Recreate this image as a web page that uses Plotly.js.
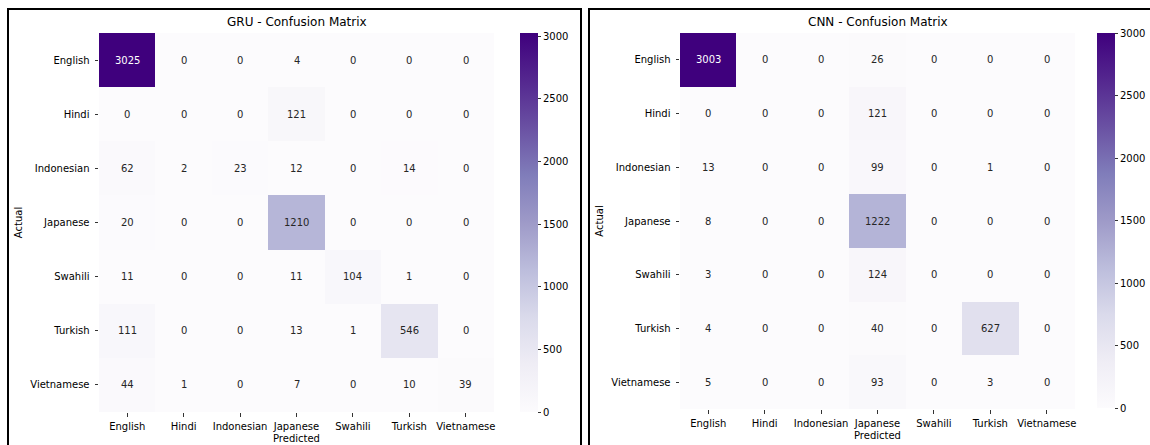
<!DOCTYPE html>
<html>
<head>
<meta charset="utf-8">
<script src="https://cdn.plot.ly/plotly-3.0.1.min.js"></script>
<style>
  html, body { margin: 0; padding: 0; background: #ffffff; }
  #chart { width: 1150px; height: 445px; }
</style>
</head>
<body>
<div id="chart"></div>
<script>
// Language classes (rows = actual, columns = predicted)
const languages = ["English", "Hindi", "Indonesian", "Japanese", "Swahili", "Turkish", "Vietnamese"];

// GRU confusion matrix
const gruMatrix = [
  [3025, 0, 0, 4, 0, 0, 0],
  [0, 0, 0, 121, 0, 0, 0],
  [62, 2, 23, 12, 0, 14, 0],
  [20, 0, 0, 1210, 0, 0, 0],
  [11, 0, 0, 11, 104, 1, 0],
  [111, 0, 0, 13, 1, 546, 0],
  [44, 1, 0, 7, 0, 10, 39]
];

// CNN confusion matrix
const cnnMatrix = [
  [3003, 0, 0, 26, 0, 0, 0],
  [0, 0, 0, 121, 0, 0, 0],
  [13, 0, 0, 99, 0, 1, 0],
  [8, 0, 0, 1222, 0, 0, 0],
  [3, 0, 0, 124, 0, 0, 0],
  [4, 0, 0, 40, 0, 627, 0],
  [5, 0, 0, 93, 0, 3, 0]
];

const colorbarTicks = [0, 500, 1000, 1500, 2000, 2500, 3000];

// Purples sequential colormap
const purples = [
  [0.000, "#fcfbfd"], [0.125, "#efedf5"], [0.250, "#dadaeb"],
  [0.375, "#bcbddc"], [0.500, "#9e9ac8"], [0.625, "#807dba"],
  [0.750, "#6a51a3"], [0.875, "#54278f"], [1.000, "#3f007d"]
];

const W = 1150, H = 445;
const px = v => v / W;
const py = v => (H - v) / H;
const FONT = "DejaVu Sans, Verdana, sans-serif";

function maxOf(m) { return Math.max(...m.map(r => Math.max(...r))); }

function heat(matrix, xa, ya, cbX, cbLen) {
  const zmax = maxOf(matrix);
  return {
    type: "heatmap",
    z: matrix,
    x: languages,
    y: languages,
    xaxis: xa,
    yaxis: ya,
    zmin: 0,
    zmax: zmax,
    colorscale: purples,
    hoverinfo: "skip",
    xgap: 0, ygap: 0,
    colorbar: {
      x: cbX, xanchor: "left", xpad: 0,
      y: py(33), yanchor: "top", ypad: 0,
      len: cbLen, lenmode: "pixels",
      thickness: 18, thicknessmode: "pixels",
      outlinewidth: 0,
      tickvals: colorbarTicks,
      ticks: "outside", ticklen: 3.5, tickwidth: 0.8, tickcolor: "#000",
      ticklabelstandoff: 2,
      tickfont: { family: FONT, size: 10, color: "#000" }
    }
  };
}

// Cell value labels, white on the darkest cells
function cellLabels(matrix, xa, ya) {
  const zmax = maxOf(matrix);
  const out = [];
  matrix.forEach((row, i) => row.forEach((v, j) => {
    out.push({
      x: languages[j], y: languages[i], xref: xa, yref: ya,
      text: String(v), showarrow: false,
      font: { family: FONT, size: 10, color: v / zmax > 0.6 ? "#ffffff" : "#262626" }
    });
  }));
  return out;
}

function axisX(domain, anchor) {
  return {
    domain: domain, anchor: anchor, type: "category",
    showgrid: false, zeroline: false, showline: false,
    ticks: "outside", ticklen: 3.5, tickwidth: 0.8, tickcolor: "#000",
    ticklabelstandoff: 1,
    tickfont: { family: FONT, size: 10, color: "#000" },
    automargin: false, fixedrange: true,
    title: { text: "Predicted", standoff: 4, font: { family: FONT, size: 10, color: "#000" } }
  };
}
function axisY(domain, anchor) {
  return {
    domain: domain, anchor: anchor, type: "category", autorange: "reversed",
    showgrid: false, zeroline: false, showline: false,
    ticks: "outside", ticklen: 3.5, tickwidth: 0.8, tickcolor: "#000",
    ticklabelstandoff: 3,
    tickfont: { family: FONT, size: 10, color: "#000" },
    automargin: false, fixedrange: true,
    title: { text: "Actual", standoff: 5, font: { family: FONT, size: 10, color: "#000" } }
  };
}

const data = [
  heat(gruMatrix, "x", "y", px(520), 379),
  heat(cnnMatrix, "x2", "y2", px(1097), 375)
];

const titles = [
  { text: "GRU - Confusion Matrix", cx: (99 + 494) / 2 },
  { text: "CNN - Confusion Matrix", cx: (680 + 1075) / 2 }
].map(t => ({
  text: t.text, x: px(t.cx), y: py(22), xref: "paper", yref: "paper",
  xanchor: "center", yanchor: "middle", showarrow: false,
  font: { family: FONT, size: 12, color: "#000" }
}));

const layout = {
  width: W, height: H,
  margin: { l: 0, r: 0, t: 0, b: 0 },
  paper_bgcolor: "#ffffff", plot_bgcolor: "#ffffff",
  showlegend: false,
  xaxis: axisX([px(99), px(494)], "y"),
  yaxis: axisY([py(412), py(33)], "x"),
  xaxis2: axisX([px(680), px(1075)], "y2"),
  yaxis2: axisY([py(409), py(33)], "x2"),
  annotations: titles
    .concat(cellLabels(gruMatrix, "x", "y"))
    .concat(cellLabels(cnnMatrix, "x2", "y2")),
  shapes: [
    { type: "rect", xref: "paper", yref: "paper", x0: px(8), x1: px(581), y0: -0.05, y1: py(9),
      line: { color: "#000", width: 2 }, fillcolor: "rgba(0,0,0,0)" },
    { type: "rect", xref: "paper", yref: "paper", x0: px(589), x1: 1.05, y0: -0.05, y1: py(9),
      line: { color: "#000", width: 2 }, fillcolor: "rgba(0,0,0,0)" }
  ]
};

Plotly.newPlot("chart", data, layout, { displayModeBar: false, staticPlot: true });
</script>
</body>
</html>
